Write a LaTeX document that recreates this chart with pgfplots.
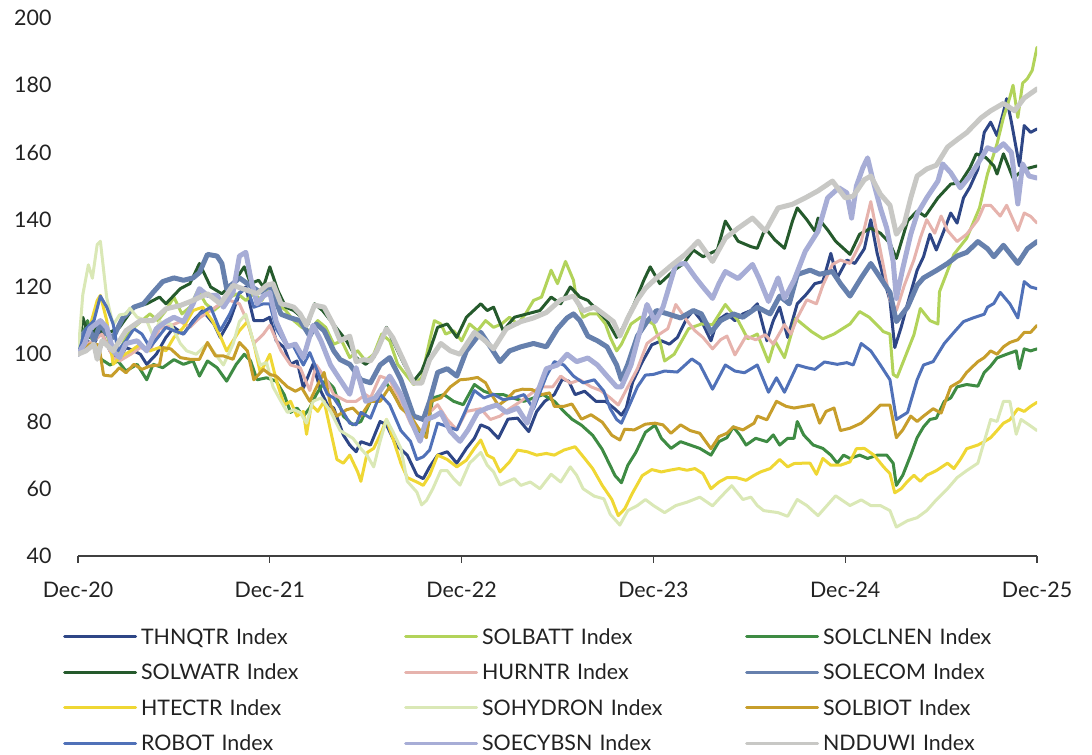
\documentclass[border=0pt]{standalone}
\usepackage{fontspec}
\setmainfont{Lato}
\usepackage{pgfplots}
\pgfplotsset{compat=1.18}
\definecolor{cTHN}{HTML}{2E4686}
\definecolor{cBATT}{HTML}{B2D35A}
\definecolor{cCLN}{HTML}{3E8B43}
\definecolor{cWATR}{HTML}{255A2C}
\definecolor{cHURN}{HTML}{E6B3AD}
\definecolor{cECOM}{HTML}{6680AD}
\definecolor{cHTEC}{HTML}{EFD734}
\definecolor{cHYD}{HTML}{DAE8B6}
\definecolor{cBIOT}{HTML}{C79E2B}
\definecolor{cROB}{HTML}{5071B8}
\definecolor{cCYB}{HTML}{A7ADD6}
\definecolor{cNDD}{HTML}{C8C8C5}
\definecolor{txt}{HTML}{222222}
\begin{document}
\begin{tikzpicture}[x=1bp,y=1bp]
\path[use as bounding box] (0,0) rectangle (1092,755);
\begin{axis}[
  at={(78bp,199bp)}, anchor=south west,
  scale only axis, width=959bp, height=538bp,
  xmin=0, xmax=60, ymin=40, ymax=200,
  axis lines*=left,
  axis line style={-},
  y axis line style={draw=none},
  x axis line style={draw=black!75, line width=1.1bp},
  ytick={40,60,...,200},
  xtick={0,12,24,36,48,60},
  xticklabels={Dec-20,Dec-21,Dec-22,Dec-23,Dec-24,Dec-25},
  ytick style={draw=none},
  xtick style={draw=black!75, line width=1.1bp},
  tick align=outside,
  major tick length=7bp,
  tick label style={font=\fontsize{21.5}{24}\selectfont, text=txt},
  yticklabel style={xshift=-16bp},
  xticklabel style={yshift=-15bp},
  /pgf/number format/assume math mode=true,
  legend columns=3,
  legend cell align=left,
  legend style={at={(-0.0156,-0.1290)}, anchor=north west, draw=none, fill=none,
    inner sep=0pt, outer sep=0pt, row sep=12.5bp,
    font=\fontsize{21.5}{24}\selectfont, text=txt,
    nodes={inner sep=0pt, text height=19bp, text depth=4bp, text width=263bp, align=left},
    /tikz/every odd column/.append style={column sep=4bp}},
  legend image code/.code={\draw[#1, line width=3bp] (0bp,0bp) -- (71bp,0bp);},
  every axis plot/.append style={line join=round, line cap=round},
]
% THNQTR
\addplot[cTHN, line width=3bp] coordinates {(0,100) (0.5,104) (1,103) (1.4,107) (2,101) (2.5,98) (3,102) (3.5,101) (3.9,100) (4.3,97) (4.9,100) (5.5,105) (6,108) (6.6,106) (7.2,110) (7.8,113) (8.5,109) (8.9,105) (9.5,110) (10.1,118) (10.5,120) (11,110) (11.6,110) (12,111) (12.4,104) (12.9,102) (13.3,97) (13.7,98) (14.1,90) (14.7,97) (15.2,89) (15.6,85) (16,84) (16.6,76) (17,73) (17.4,71) (17.7,74) (18.3,73) (18.9,80) (19.3,79) (19.9,73) (20.6,70) (21.2,64) (21.6,63) (22,66.5) (22.5,70) (23.1,71) (23.7,67.6) (24.3,72) (24.8,75) (25.2,79) (25.7,78) (26.3,75) (26.9,80.7) (27.5,81) (28.2,77) (28.7,83) (29.2,86) (29.8,88) (30.3,92.6) (30.7,92) (31.1,88) (31.7,89) (32.4,86) (33,86) (33.6,83.7) (34,81.9) (34.3,84) (34.7,91.7) (35.3,97.7) (35.9,102.8) (36.5,104) (37,103) (37.5,105) (38.1,110.8) (38.5,113) (39,110) (39.6,104) (40,110) (40.6,112) (41.1,110) (41.6,112) (42.1,113) (42.5,115) (43.1,104) (43.5,110) (43.9,114) (44.4,105) (45,115) (45.6,118) (46.1,121) (46.6,121.6) (47.1,130) (47.5,122.7) (48.1,128) (48.6,127) (49.2,131.4) (49.6,140) (50,130) (50.4,122.7) (50.8,116) (51.1,102) (51.5,108) (51.9,115) (52.5,125) (52.9,129) (53.3,135.7) (53.7,131) (54.2,137) (54.6,142) (55,139) (55.4,146.5) (55.8,149.7) (56.3,155) (56.7,166) (57.1,169) (57.5,165) (57.9,172) (58.1,176) (58.4,169) (58.9,156) (59.2,168) (59.6,166) (60,167)};
\addlegendentry{THNQTR Index}
% SOLBATT
\addplot[cBATT, line width=3bp] coordinates {(0,100) (0.5,106) (1,104) (1.5,110) (2,103) (2.5,100) (3,105) (3.5,108) (4,110) (4.5,112) (5,110) (5.5,113) (6,117) (6.5,112) (7,114) (7.5,119) (8,115) (8.5,113) (9,115) (9.5,117) (10,118) (10.5,116) (11,118) (11.5,116) (12,120) (12.5,115) (13,113) (13.5,110) (14,108) (14.5,107) (15,110) (15.5,108) (16,103) (16.5,104) (17,99) (17.5,101) (18,98) (18.5,100) (19,106) (19.5,104) (20,97) (20.5,94) (21,91) (21.5,93) (22,104) (22.3,110) (22.7,109) (23,106) (23.5,107) (24,104) (24.5,109) (25,107) (25.5,110) (26,108) (26.5,109) (27,111) (27.5,109) (28,112) (28.5,116) (29,117) (29.6,125) (30,121) (30.5,127.6) (31,122) (31.2,116) (31.6,111) (32,112) (32.5,112) (33,109) (33.3,105) (33.7,101) (34,103) (34.6,109) (35.2,111) (35.6,110) (36,109) (36.4,104) (36.7,98) (37.3,100) (38.2,107.6) (39,109) (39.7,108.8) (40.5,114.8) (41.3,110) (41.9,104.6) (42.5,106) (43.2,97.7) (43.6,104) (44.2,99) (44.9,110.6) (45.9,106.7) (46.6,104.6) (47.3,106) (48.3,109) (48.9,112.7) (49.5,111) (50.4,106.7) (50.8,106) (51,94) (51.25,93.2) (52.3,105.8) (52.7,113.6) (53.3,110) (53.8,109) (53.9,118.6) (54.8,129.7) (55.6,134.5) (56.4,143.5) (56.9,153.6) (57.5,162.6) (57.9,170.4) (58.3,176.4) (58.5,180) (58.8,170.4) (59.1,180.6) (59.4,182) (59.7,184.4) (60,191.3)};
\addlegendentry{SOLBATT Index}
% SOLCLNEN
\addplot[cCLN, line width=3bp] coordinates {(0,100) (0.3,106) (0.6,110) (1,103) (1.3,99) (2,96.8) (2.5,98) (3,95) (3.7,97) (4.3,92.4) (4.7,97) (5.3,96) (6,98.4) (6.6,97) (7.2,98) (7.6,93.5) (8.1,98) (8.7,96) (9.3,92) (9.9,97) (10.4,100) (10.8,98) (11.2,92.4) (11.8,93) (12.4,92) (12.9,88) (13.3,82.7) (13.7,84) (14.1,81.6) (14.5,84) (14.9,88) (15.5,92.4) (16,90) (16.6,81.6) (17.2,79) (17.7,80) (18.3,86) (18.7,88) (19.3,91.4) (19.9,87) (20.6,82.7) (21.2,77.3) (21.8,76.2) (22.2,87) (22.9,88) (23.5,86) (24.1,85) (24.8,91) (25.4,89) (26,88) (26.6,88) (27.2,87) (27.9,86) (28.5,87) (29.1,88) (29.8,86) (30.4,83) (30.9,80.7) (31.5,78.9) (32.2,75.9) (32.8,71.7) (33.2,67.8) (33.6,63.9) (34,61.8) (34.4,67) (34.9,70.8) (35.5,76.8) (36.1,78.9) (36.5,75) (37.1,72) (37.7,74) (38.3,73) (38.9,72) (39.6,70) (40.1,74) (40.6,75.2) (41,78.4) (41.4,76) (41.8,73) (42.4,75) (43.1,74) (43.5,76) (43.9,73) (44.4,75) (44.8,75) (45,80) (45.4,76) (46,73) (46.6,72) (47.1,70) (47.5,67.6) (47.9,70) (48.3,69) (48.9,70) (49.4,69) (50,70) (50.6,70) (51,67.6) (51.2,61) (51.6,64) (52.1,70) (52.5,75.2) (52.9,78.4) (53.3,80.6) (53.7,81) (54.2,86) (54.6,87) (55,90.3) (55.6,91) (56.3,90.5) (56.7,94.6) (57.1,96.5) (57.5,98.9) (58.1,100) (58.7,101) (58.9,95.7) (59.2,101.6) (59.6,101) (60,101.6)};
\addlegendentry{SOLCLNEN Index}
% SOLWATR
\addplot[cWATR, line width=3bp] coordinates {(0,100) (0.3,111) (0.7,105) (1.2,108) (1.7,106) (2.2,107) (2.6,108) (3.5,114) (4.3,115) (5.1,117) (5.5,115) (6.4,119.5) (7,121) (7.6,127) (8.3,120) (9,118) (9.7,121) (10.4,126) (10.8,121) (11.3,122) (11.6,120) (12,126) (12.5,119) (13,114) (13.5,113) (14,111) (14.4,109) (14.8,115) (15.3,113) (15.8,110) (16.3,107) (16.8,104) (17.4,99) (18,97) (18.5,99) (19.3,108) (19.8,103) (20.4,97) (21,92) (21.5,95) (22,101) (22.5,108) (23.1,109) (23.7,105) (24.3,111) (25.2,115) (25.6,113) (26,114) (26.6,107) (27.3,111) (28.1,112) (28.9,113) (29.6,117) (30.2,115) (30.8,120) (31.4,117) (31.9,116) (32.5,113) (33.1,110) (33.7,105) (34.1,108) (34.8,115) (35.4,122) (35.8,126) (36.4,121) (37.3,125) (37.9,127) (38.5,131) (39.1,129) (40,131) (40.5,139.6) (41.3,133.6) (42.1,132) (42.5,131.5) (43,137.5) (43.6,134) (44.2,131.5) (44.7,139.6) (45,143.5) (45.6,140) (46.1,136.6) (46.3,140.5) (46.9,137) (47.4,133.6) (48.3,129.7) (48.9,135.7) (49.6,137.5) (50.2,136) (50.8,133) (51.2,128.5) (51.9,139.6) (52.5,142.6) (53,141) (53.8,146.5) (54.6,150.6) (55.2,151) (55.8,155.4) (56.2,159.6) (56.8,158.5) (57.3,156) (57.5,153.6) (57.9,159.6) (58.5,152.4) (59.2,155) (60,156)};
\addlegendentry{SOLWATR Index}
% HURNTR
\addplot[cHURN, line width=3bp] coordinates {(0,100) (0.5,103) (1,104) (1.5,106) (2.2,99) (2.6,98) (3.3,100) (3.9,102) (4.5,101) (5.1,107.6) (5.8,108.5) (6.4,109.7) (7,108) (7.6,110.8) (8.3,113) (8.9,115) (9.5,116) (10.1,115) (10.6,109.7) (11,103.2) (11.6,106) (12,108.6) (12.7,101) (13.3,96.8) (13.9,96) (14.5,89.2) (14.9,96.8) (15.6,92) (16,88) (16.8,86) (17.4,86) (18,88) (18.3,87) (18.9,93.5) (19.5,92.4) (20.2,86) (20.8,79.5) (21.4,75.1) (22,82.7) (22.5,85) (23.1,80.6) (23.7,77.5) (24.3,83) (25.2,83.8) (25.8,80.6) (26.4,81.6) (27,83.8) (27.7,86) (28.3,88.1) (28.9,90.3) (29.7,90.3) (30.2,93.5) (30.8,91.4) (31.4,92.4) (32.1,90.3) (32.7,89.2) (33.3,87) (33.8,84.9) (34.4,90.3) (35,95.7) (35.6,103.2) (36.2,105.4) (36.9,107.6) (37.4,114.8) (38.1,110) (38.6,107) (39.1,105) (39.7,101.6) (40.2,104.3) (40.6,105.4) (41.1,99.8) (41.8,105.4) (42.4,104.3) (43,105.8) (43.5,103) (44.2,108.8) (44.6,106) (45,110.8) (45.6,116.2) (46.2,115) (46.6,120.5) (47.2,126.7) (47.7,128) (48.3,127) (49,133.5) (49.6,145.4) (50,135.7) (50.4,126) (50.8,116.2) (51.2,113) (51.7,120.5) (52.3,128.1) (52.7,134.6) (53.1,140) (53.6,136) (54,141.1) (54.4,136.8) (55,133.5) (55.6,135.7) (56.3,140) (56.7,144.3) (57.1,144.3) (57.7,141.1) (58.1,144.3) (58.8,136.8) (59.2,142) (59.6,141) (60,139)};
\addlegendentry{HURNTR Index}
% SOLECOM
\addplot[cECOM, line width=5bp] coordinates {(0,100) (0.3,106) (0.7,108) (1,104) (1.4,109) (1.8,106) (2.2,105) (2.8,110.8) (3.5,114) (4.1,115) (4.7,118.4) (5.3,121.6) (6,122.7) (6.6,122) (7.2,122.7) (7.6,124.3) (8.1,129.7) (8.7,129.2) (9,127) (9.3,119.5) (9.7,121) (10.1,122.7) (10.6,121) (11.4,118.4) (12,120.5) (12.7,111.9) (13.3,110.8) (13.9,110) (14.5,105.4) (14.9,109) (15.4,107) (16,101) (16.4,98.4) (17,97) (17.7,92.4) (18.3,91.5) (18.9,96.8) (19.5,99) (20.2,92.4) (21,81.6) (21.6,80.6) (22,86) (22.5,94.6) (23.1,95.7) (23.7,93.5) (24.3,101) (25.2,106.5) (25.8,102.2) (26.4,97.8) (27,101) (27.7,102.2) (28.5,103.2) (29.3,102.2) (30,107.6) (30.6,110.8) (31,112) (31.4,110) (31.9,105.4) (32.5,104) (33.1,102.2) (33.7,96.8) (34,92.4) (34.4,97) (35,105.4) (35.6,109.7) (36.2,113) (36.9,112) (37.7,110.8) (38.5,113) (39,112) (39.6,106.5) (40.2,110) (41,112) (41.6,111) (42.5,114) (43.3,112) (43.9,117.3) (44.5,115) (45,123.7) (45.8,125) (46.4,123.8) (47.2,124.6) (47.7,121) (48.3,117.3) (49,122.7) (49.6,127) (50.2,122.7) (50.8,118.4) (51.2,109.7) (51.9,114) (52.5,120.5) (52.9,122.7) (53.7,124.9) (54.4,127) (55,129.2) (55.6,130.3) (56.3,133.5) (56.9,131.4) (57.3,129) (57.9,132.4) (58.8,127) (59.4,131.4) (60,133.5)};
\addlegendentry{SOLECOM Index}
% HTECTR
\addplot[cHTEC, line width=3bp] coordinates {(0,100) (0.5,104) (1.2,116) (1.4,117.5) (1.8,110) (2.2,97) (2.6,99) (3.3,101) (3.9,103) (4.5,101) (5.1,102) (5.5,101) (6,105) (6.6,108) (7.2,113) (7.8,114) (8.4,110) (8.9,105.4) (9.3,101) (9.7,104) (10.1,107) (10.6,109.7) (11,103.2) (11.4,94.6) (11.8,98) (12,100) (12.4,92.4) (12.9,84.9) (13.3,86) (13.7,81.6) (14.1,83) (14.3,76.2) (14.6,85) (15,83) (15.4,86) (15.8,77.3) (16.2,68.7) (16.6,67.6) (17,70) (17.5,65) (17.7,62.2) (18.1,70.8) (18.5,72) (19,77) (19.3,80.6) (19.7,75) (20.2,67.6) (20.6,63.3) (21.2,62) (21.6,61) (22,64) (22.5,70) (23.1,68.7) (23.7,66.5) (24.3,68.5) (24.8,72) (25.2,74.5) (25.6,70) (26,69) (26.4,65) (27,68) (27.5,71.5) (28.1,71) (28.7,70) (29.3,70.5) (29.8,70) (30.4,71.5) (31.1,72.5) (31.7,69) (32.2,66) (32.8,61) (33.4,56.8) (33.8,52) (34.2,54) (34.7,58.8) (35.3,63.9) (35.9,65.7) (36.5,65) (37,65.5) (37.6,66) (38.1,65.5) (38.6,66) (39.1,64.5) (39.6,60) (40.1,62) (40.6,63.3) (41.2,63.3) (41.8,62.5) (42.3,64) (42.7,65) (43.3,66) (43.9,68.7) (44.4,66.5) (44.8,67.5) (45.4,67.6) (45.8,67.6) (46.2,64.3) (46.6,69) (47.1,67) (47.7,67) (48.3,68) (48.7,71.9) (49.2,72) (49.8,70) (50.4,66.5) (50.8,64.5) (51.1,58.8) (51.5,60) (51.9,62.2) (52.3,64) (52.7,62.2) (53.1,64) (53.7,65.4) (54.4,67.6) (54.8,66) (55.2,68.7) (55.6,71.9) (56.3,73) (56.7,74) (57.1,75.2) (57.5,77.3) (57.9,79.5) (58.3,80.5) (58.8,83.8) (59.2,83) (59.6,84.5) (60,85.7)};
\addlegendentry{HTECTR Index}
% SOHYDRON
\addplot[cHYD, line width=3bp] coordinates {(0,100) (0.3,117.7) (0.65,126.6) (0.9,122.6) (1.2,132.6) (1.4,133.6) (1.8,116.7) (2.2,108.7) (2.6,111.7) (3,112) (3.25,113.7) (3.7,111) (4.3,110) (4.7,105.4) (5.1,109.7) (5.8,109) (6.4,103.2) (6.8,101) (7.4,100) (8.1,103.2) (8.6,100) (9.1,96.8) (9.7,103) (10.1,109.7) (10.5,111.9) (11,103.2) (11.4,96.8) (11.8,97.5) (12.2,90.3) (12.7,86) (13.1,82.7) (13.5,83.5) (13.9,82.7) (14.3,79.5) (14.7,86) (15.2,87) (15.8,83) (16.4,77.3) (17.2,75) (17.7,71.9) (18.1,69.8) (18.5,66.5) (18.9,74.1) (19.3,80.6) (19.7,77) (20.2,72) (20.6,62.2) (21.2,59) (21.5,55.2) (21.8,56.5) (22.2,60) (22.7,65.4) (23.1,65.4) (23.5,63) (23.9,61.1) (24.5,67.6) (25.2,70.8) (25.6,67) (26,65) (26.4,61.1) (26.8,62) (27.3,63) (27.7,61) (28.3,62) (28.9,60) (29.6,64.3) (30.2,62) (30.8,66.5) (31.2,64) (31.6,60) (32.3,57.8) (32.9,57) (33.3,52.4) (33.9,49.2) (34.4,53.5) (35,55) (35.5,56.8) (36,55) (36.7,52.9) (37.4,55) (38.1,56) (38.9,57.5) (39.7,54.9) (40.2,57.5) (40.9,60.9) (41.6,56.8) (42.1,57.5) (42.5,55) (42.9,53.5) (43.8,52.9) (44.4,51.8) (45,56.8) (45.6,55) (46.3,52) (47.4,57.9) (48.3,55) (49,56.7) (49.6,55) (50.2,55) (50.8,53.5) (51.2,48.6) (51.9,50.5) (52.5,51.4) (53.1,53.5) (53.7,56.7) (54.4,60) (55,63.3) (55.6,65.4) (56.3,67.6) (56.7,74.1) (57.1,80.6) (57.5,80) (57.9,86) (58.3,86) (58.7,76.2) (59,80.6) (59.5,79) (60,77.3)};
\addlegendentry{SOHYDRON Index}
% SOLBIOT
\addplot[cBIOT, line width=3bp] coordinates {(0,100) (0.75,103) (1.3,102.8) (1.6,93.8) (2.1,93.5) (2.6,96) (3,94.5) (3.5,97) (4,95.5) (4.5,96.5) (5.1,96.8) (5.3,102) (5.8,101.6) (6.4,99) (7,98.5) (7.6,98.5) (8.1,103.5) (8.6,99.5) (9.1,99.5) (9.7,98.5) (10.1,103.5) (10.6,101) (11,92.4) (11.6,95.5) (12,94) (12.4,93.5) (13.1,90.3) (13.6,89) (14,90) (14.5,86) (14.9,90) (15.4,94.6) (15.8,84.9) (16.2,81.6) (16.8,83.5) (17.2,84) (17.7,81.6) (18.3,86) (18.9,86) (19.5,90.3) (20.2,84) (20.8,81.6) (21.4,77.3) (21.8,75.2) (22.1,86) (22.7,87) (23.3,90.3) (23.9,92.4) (24.4,92.6) (25,93.1) (25.5,91.5) (25.9,87.8) (26.3,84.8) (26.8,86.5) (27.3,89) (27.8,89.6) (28.4,89.5) (29,88) (29.5,88.5) (29.8,84.5) (30.4,84.5) (30.9,85.2) (31.5,80.7) (32.1,82) (32.8,79.8) (33.4,75.9) (33.9,74.5) (34.2,77.7) (34.8,77.5) (35.5,79.2) (36.1,79.5) (36.6,79) (37.1,76.5) (37.7,79) (38.3,77.3) (38.9,76.5) (39.6,71.9) (40.1,75.5) (40.6,76.5) (41,78.4) (41.6,77.5) (42.3,79.5) (42.5,81.6) (43.1,80.5) (43.7,86) (44.3,84.5) (44.8,84) (45.4,84.5) (46,85) (46.4,79.5) (46.8,83) (47.3,84) (47.7,77.3) (48.3,78) (49,79.5) (49.6,82) (50.2,84.9) (50.8,84.9) (51.2,75.2) (51.6,77.5) (52.1,81.6) (52.5,80) (52.9,81.6) (53.5,83.8) (54,82.5) (54.6,90.3) (55.2,92) (55.6,94.6) (56.3,97.8) (56.7,99) (57.1,101) (57.5,100) (57.9,102.2) (58.3,103.5) (58.8,104.3) (59.2,106.5) (59.6,106.5) (60,108.6)};
\addlegendentry{SOLBIOT Index}
% ROBOT
\addplot[cROB, line width=3bp] coordinates {(0,100) (0.5,107.6) (1,110) (1.4,117.3) (1.8,114) (2.2,109) (2.5,101) (3,104) (3.5,107.6) (4,106) (4.5,102) (5,105) (5.5,108) (6,107) (6.6,106) (7.1,109) (7.6,111.9) (8.3,114) (8.9,107) (9.5,112) (10.1,118.4) (10.6,119.5) (11,114) (11.6,115) (12,115) (12.4,107.6) (13,103) (13.5,102.2) (14.1,96.8) (14.5,100.5) (15.2,92.4) (15.6,88.1) (16,87) (16.6,82.7) (17,79.5) (17.4,79) (17.7,82.7) (18.3,81) (18.9,88.1) (19.5,85) (20.2,77.3) (20.8,74.1) (21.2,68.7) (21.6,69.5) (22,71.5) (22.5,79.5) (23.1,78.5) (23.7,77.5) (24.3,83.8) (24.8,89.2) (25.4,87) (26,88.1) (26.6,86.5) (27.3,87) (27.9,88) (28.5,83.8) (29.3,93.5) (29.8,97.8) (30.4,96.8) (31,93.5) (31.6,91.5) (32.3,92.4) (32.9,89) (33.3,83.8) (33.7,80.6) (34,79.5) (34.4,83.8) (35,90.3) (35.5,93.8) (36,94) (36.7,95) (37.5,94.7) (38.4,98.6) (38.9,97) (39.7,89.6) (40.5,96.8) (41.1,95) (41.7,94.5) (42.5,96.8) (43.2,88.7) (43.7,93) (44.2,88.7) (45,96.8) (45.6,96) (46.1,95.5) (46.7,97.7) (47.5,97) (48.1,97.5) (48.5,96.8) (49,103.2) (49.6,101) (50.2,96.8) (50.8,92.4) (51.2,80.6) (51.9,82.7) (52.5,92.4) (52.9,96.8) (53.5,97.8) (54.2,103.2) (54.8,106.5) (55.4,109.7) (56,110.8) (56.7,111.9) (56.9,114) (57.3,115.1) (57.7,118.4) (58.3,115) (58.8,110.8) (59.2,121.6) (59.6,120) (60,119.5)};
\addlegendentry{ROBOT Index}
% SOECYBSN
\addplot[cCYB, line width=5bp] coordinates {(0,100) (0.4,103) (0.75,107.6) (1.4,110) (1.8,108) (2.2,101) (2.6,99) (3,103.2) (3.7,104) (4.3,101) (4.9,107.6) (5.5,109.7) (6,111) (6.6,109.7) (7.2,115) (7.6,119.5) (8.1,117.5) (8.7,117.5) (9.1,114) (9.7,118.4) (10.1,129.2) (10.5,130.3) (10.8,122.7) (11.2,115) (11.6,117.3) (12,118.4) (12.4,109.7) (13.1,102.2) (13.6,103) (14.1,98.9) (14.7,108.6) (15.2,104) (15.8,96.8) (16.4,92.4) (17,88.1) (17.4,96) (18,86) (18.6,87) (19.5,93.5) (20.2,88) (20.8,80.6) (21.4,74.1) (21.8,80.6) (22.3,81.5) (22.7,82.7) (23.3,77) (23.9,74.1) (24.4,77.5) (25,82.7) (25.6,84) (26.2,84.9) (26.8,82.7) (27.5,84) (28.1,79.5) (28.7,88.1) (29.3,95.7) (30,96.8) (30.6,100) (31.2,97.8) (31.9,98.9) (32.5,96.8) (33.1,93.5) (33.7,90.3) (34,90.3) (34.6,96.8) (35.2,107.6) (35.6,114.8) (36.1,109.7) (36.6,114) (37.4,126.7) (38,127) (38.6,123) (39.1,120) (39.7,116.6) (40.1,121) (40.5,124.6) (41.3,122.5) (42.2,126.7) (42.6,122.7) (43.2,115.7) (43.8,122.7) (44.2,116.6) (44.8,122) (45.5,130.6) (46.3,136.6) (46.9,146.5) (47.6,149.5) (48.1,148) (48.4,140.5) (48.7,150) (49.1,155.4) (49.4,158.4) (49.7,152.4) (50.2,143.5) (50.6,137.5) (51,127.6) (51.2,116.6) (51.6,125.5) (52.1,135.7) (52.5,141.7) (53.1,146.5) (53.8,151.5) (54.1,156.6) (54.6,154) (55.2,149.5) (55.8,153) (56.4,157.5) (56.9,161.4) (57.4,160.5) (57.9,162.6) (58.4,160) (58.8,144.7) (59.1,156.6) (59.5,153) (60,152.4)};
\addlegendentry{SOECYBSN Index}
% NDDUWI
\addplot[cNDD, line width=5bp] coordinates {(0,100) (0.5,101) (1,103) (1.2,98.5) (1.5,104) (2.2,101) (3,107) (3.9,110) (4.7,110) (5.5,113.5) (6.4,114.5) (7.2,116) (8.1,118) (8.9,115) (9.7,120.5) (10.6,119) (11.2,118) (11.8,120.5) (12.2,121) (12.7,115) (13.1,114.6) (13.5,114) (13.9,112) (14.3,108.6) (14.8,114.6) (15.4,114) (16,108.6) (16.4,104) (17,105.4) (17.4,97.8) (17.9,98.4) (18.3,98) (18.7,101) (19.3,107.6) (19.7,104.9) (20.4,97.8) (21,91.4) (21.5,91.4) (22,98.4) (22.7,103.2) (23.3,101) (23.9,100) (24.8,106.5) (25.4,104.3) (26,101.6) (26.8,107.6) (27.7,109.7) (28.5,110.8) (29.3,112.4) (30.2,116.2) (31,117.3) (31.6,112.9) (32.3,114) (32.9,111.9) (33.5,109.7) (33.9,105.4) (34.4,110.8) (35,116.2) (35.5,119.6) (36.2,122.7) (37.2,126.7) (38,129.7) (38.8,133.6) (39.7,127.6) (40.5,134.5) (41.3,137.5) (42.2,140.5) (43,136.6) (43.8,143.5) (44.7,144.6) (45.5,146.5) (46.3,148.6) (47.2,151.5) (48,146.5) (48.5,147) (49.2,151.9) (49.6,153) (50.2,147.6) (50.8,144.3) (51.2,135.7) (51.7,138.9) (52.1,146.5) (52.5,153) (53.1,155.1) (53.7,156.2) (54.4,161.6) (55,163.8) (55.6,165.9) (56.5,170.3) (57.1,172.4) (57.9,174.6) (58.6,172.4) (59.2,176.2) (60,178.9)};
\addlegendentry{NDDUWI Index}
\end{axis}
\end{tikzpicture}
\end{document}
